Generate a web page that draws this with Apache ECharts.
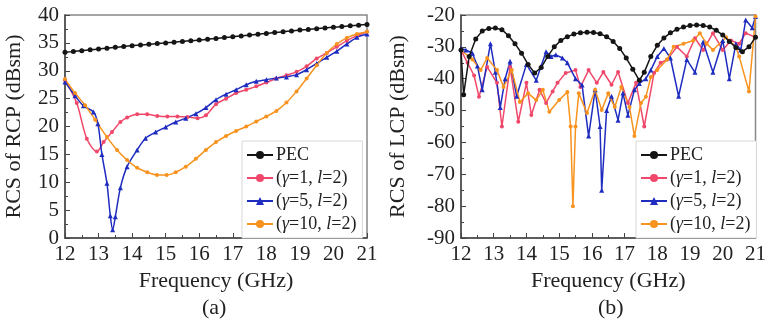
<!DOCTYPE html>
<html>
<head>
<meta charset="utf-8">
<script src="https://cdn.jsdelivr.net/npm/echarts@6/dist/echarts.min.js"></script>
<style>
  html, body { margin: 0; padding: 0; background: #fff; }
  #chart { width: 769px; height: 328px; }
</style>
</head>
<body>
<div id="chart"></div>
<script>
// series names (legend)
const seriesNames = ["PEC", "(γ=1, l=2)", "(γ=5, l=2)", "(γ=10, l=2)"];
const seriesColors = ["#151515", "#f0486a", "#1f2cc0", "#f7931e"];

// (a) RCS of RCP, [GHz, dBsm]
const pecRcp = [[12,33.3],[12.25,33.45],[12.5,33.6],[12.75,33.75],[13,33.9],[13.25,34.05],[13.5,34.2],[13.75,34.35],[14,34.5],[14.25,34.62],[14.5,34.75],[14.75,34.88],[15,35],[15.25,35.12],[15.5,35.25],[15.75,35.38],[16,35.5],[16.25,35.65],[16.5,35.8],[16.75,35.95],[17,36.1],[17.25,36.25],[17.5,36.4],[17.75,36.55],[18,36.7],[18.25,36.85],[18.5,37],[18.75,37.15],[19,37.3],[19.25,37.42],[19.5,37.55],[19.75,37.68],[20,37.8],[20.25,37.92],[20.5,38.05],[20.75,38.18],[21,38.3]];
const g1Rcp = [[12,28.3],[12.35,24.2],[12.65,17.8],[12.95,15.5],[13.15,17.2],[13.4,19],[13.65,20.8],[13.85,21.6],[14.15,22.2],[14.45,22.2],[14.75,21.9],[15.05,21.8],[15.35,21.8],[15.65,21.7],[15.95,21.5],[16.2,22],[16.5,24],[16.8,25],[17.1,26],[17.4,26.6],[17.7,27.2],[18,27.9],[18.3,28.6],[18.6,29.2],[18.9,29.8],[19.2,30.8],[19.5,32.2],[19.8,33.2],[20.1,34.3],[20.4,35.4],[20.7,36.3],[21,37]];
const g5Rcp = [[12,28],[12.3,25.5],[12.55,23.7],[12.85,22.6],[12.98,20.5],[13.1,15],[13.25,9.8],[13.35,4],[13.42,1.5],[13.5,3.8],[13.65,9],[13.85,12.8],[14.15,15.8],[14.4,17.9],[14.7,19],[15,19.9],[15.3,20.8],[15.6,21.5],[15.9,22.3],[16.2,23.4],[16.5,24.8],[16.8,25.8],[17.1,26.6],[17.4,27.5],[17.7,28.1],[18,28.4],[18.3,28.7],[18.6,28.9],[18.9,29.3],[19.2,30.2],[19.5,31.3],[19.8,32.4],[20.1,33.5],[20.4,34.8],[20.7,36],[21,36.6]];
const g10Rcp = [[12,28.5],[12.3,26],[12.6,23.8],[12.9,21.2],[13.25,18.1],[13.55,15.8],[13.85,14],[14.15,12.6],[14.45,11.8],[14.74,11.3],[15.03,11.3],[15.3,11.8],[15.6,12.8],[15.9,14.2],[16.2,15.8],[16.5,17.2],[16.8,18.3],[17.1,19.2],[17.4,20],[17.7,20.9],[18,21.8],[18.3,22.8],[18.6,24.3],[18.9,26.3],[19.2,28.6],[19.5,31],[19.8,33.2],[20.1,34.8],[20.4,35.9],[20.7,36.6],[21,37]];

// (b) RCS of LCP, [GHz, dBsm]
const pecLcp = [[12,-31],[12.08,-45],[12.25,-33],[12.45,-27.5],[12.65,-25],[12.85,-24.2],[13.05,-24.1],[13.25,-24.6],[13.45,-26.5],[13.65,-29],[13.85,-32],[14.05,-35.5],[14.25,-38.2],[14.45,-36.5],[14.65,-33],[14.85,-30],[15.05,-28],[15.25,-26.8],[15.45,-26],[15.65,-25.6],[15.85,-25.4],[16.05,-25.5],[16.25,-25.9],[16.45,-26.8],[16.65,-28.3],[16.85,-30.5],[17.05,-33.5],[17.25,-37],[17.45,-40.5],[17.6,-38],[17.8,-33],[18,-29.5],[18.2,-27.2],[18.4,-25.6],[18.6,-24.5],[18.8,-23.8],[19,-23.3],[19.2,-23.1],[19.4,-23.3],[19.6,-23.8],[19.8,-24.8],[20,-26.3],[20.2,-28.3],[20.4,-30.2],[20.6,-31.5],[20.8,-30],[21,-27]];
const g1Lcp = [[12,-31],[12.2,-35],[12.4,-39],[12.55,-45.7],[12.8,-36.3],[13.1,-41.3],[13.25,-55],[13.5,-36.3],[13.75,-53.5],[14,-41.3],[14.15,-51.4],[14.4,-43.5],[14.6,-47.6],[14.8,-44],[14.95,-41.3],[15.2,-38.2],[15.5,-37.3],[15.65,-42.6],[15.9,-37.3],[16.15,-41.3],[16.35,-37.9],[16.6,-41.9],[16.8,-37.9],[17.1,-47.6],[17.35,-41.3],[17.6,-55],[17.9,-38.2],[18.1,-35],[18.3,-34],[18.6,-30],[18.9,-33],[19.15,-27.3],[19.4,-31],[19.7,-25.7],[20,-31],[20.25,-28],[20.5,-29],[20.7,-25.7],[21,-27]];
const g5Lcp = [[12,-30.5],[12.15,-31],[12.35,-32],[12.5,-36],[12.65,-43.5],[12.9,-29],[13.05,-38],[13.2,-49],[13.35,-40],[13.5,-34.5],[13.7,-45.5],[14,-35.5],[14.3,-40.5],[14.45,-36],[14.6,-31.5],[14.75,-33],[14.9,-32.5],[15.1,-33.5],[15.25,-35],[15.5,-40],[15.7,-42],[15.9,-58],[16.1,-43.5],[16.25,-55],[16.3,-75],[16.45,-50],[16.6,-45.5],[16.8,-53],[16.95,-44.5],[17.1,-51.5],[17.3,-43.5],[17.45,-41.5],[17.65,-40],[17.8,-37.3],[18,-33],[18.2,-30.5],[18.4,-33.5],[18.65,-45.5],[18.9,-34],[19.15,-38],[19.4,-28.5],[19.7,-38],[20,-28],[20.2,-40],[20.4,-29],[20.55,-31],[20.7,-21.6],[20.9,-24],[21,-20.5]];
const g10Lcp = [[12,-31],[12.35,-34],[12.6,-37.3],[12.8,-33.5],[13.1,-37.3],[13.3,-42.6],[13.55,-37.3],[13.8,-47.3],[14.05,-44.6],[14.3,-46.7],[14.5,-43.5],[14.7,-50.4],[15,-46.7],[15.25,-44.2],[15.35,-55],[15.42,-80],[15.5,-55],[15.6,-44.6],[15.85,-50.8],[16.1,-43.5],[16.3,-49.8],[16.5,-44.6],[16.7,-48.9],[16.9,-42.6],[17.15,-48.9],[17.3,-58],[17.5,-47.6],[17.65,-45.7],[17.8,-39.5],[18,-37.3],[18.3,-34],[18.5,-30],[18.8,-29],[19.1,-28],[19.3,-25.7],[19.5,-28.9],[19.7,-31],[20.1,-27],[20.4,-30],[20.5,-33],[20.8,-44],[21,-20.5]];

// axis ticks
const freqTicks = { min: 12, max: 21, interval: 1 };
const rcpTicks = { min: 0, max: 40, interval: 5 };
const lcpTicks = { min: -90, max: -20, interval: 10 };

const FONT = "Liberation Serif";
const chart = echarts.init(document.getElementById("chart"));

const axisCommon = {
  axisLine: { show: true, onZero: false, lineStyle: { color: "#444", width: 1.5 } },
  axisTick: { show: true, inside: true, length: 5, lineStyle: { color: "#444" } },
  minorTick: { show: true, splitNumber: 2, length: 3, lineStyle: { color: "#444" } },
  splitLine: { show: false },
  axisLabel: { fontFamily: FONT, fontSize: 21, color: "#222" },
  nameTextStyle: { fontFamily: FONT, fontSize: 22, color: "#222" },
};

const xAxis = (gridIndex) => ({
  ...axisCommon,
  type: "value",
  gridIndex,
  ...freqTicks,
  name: "Frequency (GHz)",
  nameLocation: "middle",
  nameGap: 32,
  axisLabel: { ...axisCommon.axisLabel, margin: 6 },
});

const yAxis = (gridIndex, ticks, name, gap) => ({
  ...axisCommon,
  type: "value",
  gridIndex,
  ...ticks,
  name,
  nameLocation: "middle",
  nameGap: gap,
  axisLabel: { ...axisCommon.axisLabel, margin: 6 },
});

const symbols = ["circle", "circle", "triangle", "circle"];
const sizes = [5, 4, 5, 4];

const makeSeries = (datasets, axisIndex, smooth) =>
  datasets.map((d, i) => ({
    type: "line",
    name: seriesNames[i],
    xAxisIndex: axisIndex,
    yAxisIndex: axisIndex,
    data: d,
    smooth,
    symbol: symbols[i],
    symbolSize: sizes[i],
    showAllSymbol: true,
    color: seriesColors[i],
    lineStyle: { width: 1.5, color: seriesColors[i] },
    itemStyle: { color: seriesColors[i] },
    z: i === 0 ? 3 : 2,
  }));

const legend = (left) => ({
  data: seriesNames,
  orient: "vertical",
  left,
  top: 141,
  padding: [5, 6, 5, 4],
  itemGap: 5,
  itemWidth: 26,
  itemHeight: 10,
  backgroundColor: "#fff",
  borderColor: "#d8d8d8",
  borderWidth: 1,
  borderRadius: 0,
  textStyle: {
    fontFamily: FONT,
    fontSize: 18,
    color: "#222",
    padding: [0, 0, 0, -2],
    rich: { i: { fontFamily: FONT, fontSize: 18, fontStyle: "italic", color: "#222" } },
  },
  formatter: (n) => n.replace("γ", "{i|γ}").replace("l=", "{i|l}="),
});

chart.setOption({
  animation: false,
  backgroundColor: "#fff",
  grid: [
    { left: 65, top: 15, width: 302, height: 223, show: true, borderColor: "#888", borderWidth: 1.5 },
    { left: 461, top: 15, width: 301, height: 223, show: true, borderColor: "#888", borderWidth: 1.5 },
  ],
  title: [
    { text: "(a)", left: 197, top: 292, textStyle: { fontFamily: FONT, fontSize: 22, fontWeight: "normal", color: "#222" } },
    { text: "(b)", left: 593, top: 292, textStyle: { fontFamily: FONT, fontSize: 22, fontWeight: "normal", color: "#222" } },
  ],
  legend: [legend(242), legend(636)],
  xAxis: [xAxis(0), xAxis(1)],
  yAxis: [
    yAxis(0, rcpTicks, "RCS of RCP (dBsm)", 40),
    yAxis(1, lcpTicks, "RCS of LCP (dBsm)", 52),
  ],
  series: [
    ...makeSeries([pecRcp, g1Rcp, g5Rcp, g10Rcp], 0, 0.3),
    ...makeSeries([pecLcp, g1Lcp, g5Lcp, g10Lcp], 1, false),
  ],
});
</script>
</body>
</html>
